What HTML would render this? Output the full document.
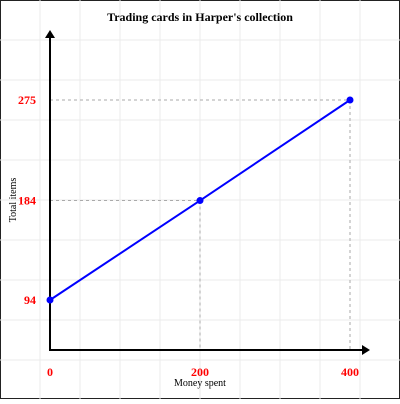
<!DOCTYPE html>
<html><head><meta charset="utf-8"><style>
html,body{margin:0;padding:0;background:#fff;}
svg{display:block;font-family:"Liberation Serif",serif;}
</style></head><body>
<svg width="400" height="404">
<rect x="0.5" y="0.5" width="399" height="398" fill="#fff" stroke="#222"/>
<g id="grid"></g>
<text x="200" y="21" text-anchor="middle" font-weight="bold" font-size="12">Trading cards in Harper's collection</text>
<g id="guides"></g>
<line x1="50" y1="350" x2="50" y2="36" stroke="#000" stroke-width="2"/>
<polygon points="50,30 45,38 55,38" fill="#000"/>
<line x1="49" y1="350" x2="364" y2="350" stroke="#000" stroke-width="2"/>
<polygon points="370,350 362,345 362,355" fill="#000"/>
<g id="marks"></g>
<text x="200" y="386" text-anchor="middle" font-size="10">Money spent</text>
<text transform="translate(16,200) rotate(-90)" text-anchor="middle" font-size="10">Total items</text>
</svg>
<script>
const xValues = [0, 200, 400];
const yValues = [94, 184, 275];
const xTicks = ["0", "200", "400"];
const yTicks = ["94", "184", "275"];
const NS = "http://www.w3.org/2000/svg";
function sx(v){ return 50 + v * 0.75; }
function sy(v){ return 300 - (v - 94) * (200 / 181); }
function mk(tag, attrs, parent){ const e = document.createElementNS(NS, tag); for (const k in attrs) e.setAttribute(k, attrs[k]); parent.appendChild(e); return e; }
const grid = document.getElementById('grid');
for (let p = 40; p < 400; p += 40) {
  const v = mk('line', {x1:p, y1:0, x2:p, y2:399, stroke:'#ebebeb', 'stroke-width':1}, grid);
  
  
  const h = mk('line', {x1:0, y1:p, x2:400, y2:p, stroke:'#ebebeb', 'stroke-width':1}, grid);
  
  
}
const guides = document.getElementById('guides');
const marks = document.getElementById('marks');
let pts = [];
for (let i = 0; i < xValues.length; i++) {
  const x = sx(xValues[i]), y = sy(yValues[i]);
  pts.push(x + ',' + y);
  const gh = mk('line', {x1:50, y1:y, x2:x, y2:y, stroke:'#aaa', 'stroke-dasharray':'3,3'}, guides);
  
  
  const gv = mk('line', {x1:x, y1:y, x2:x, y2:350, stroke:'#aaa', 'stroke-dasharray':'3,3'}, guides);
  
  
  const yt = mk('text', {x:36, y:y + 4, 'text-anchor':'end', fill:'red', 'font-weight':'bold', 'font-size':'12'}, guides);
  yt.textContent = yTicks[i];
  
  
  const xt = mk('text', {x:x, y:376, 'text-anchor':'middle', fill:'red', 'font-weight':'bold', 'font-size':'12'}, guides);
  xt.textContent = xTicks[i];
  
  
}
const line = mk('polyline', {points:pts.join(' '), fill:'none', stroke:'blue', 'stroke-width':2}, marks);


for (let i = 0; i < xValues.length; i++) {
  const c = mk('circle', {cx:sx(xValues[i]), cy:sy(yValues[i]), r:3.5, fill:'blue'}, marks);
  
  
}
</script>
</body></html>
